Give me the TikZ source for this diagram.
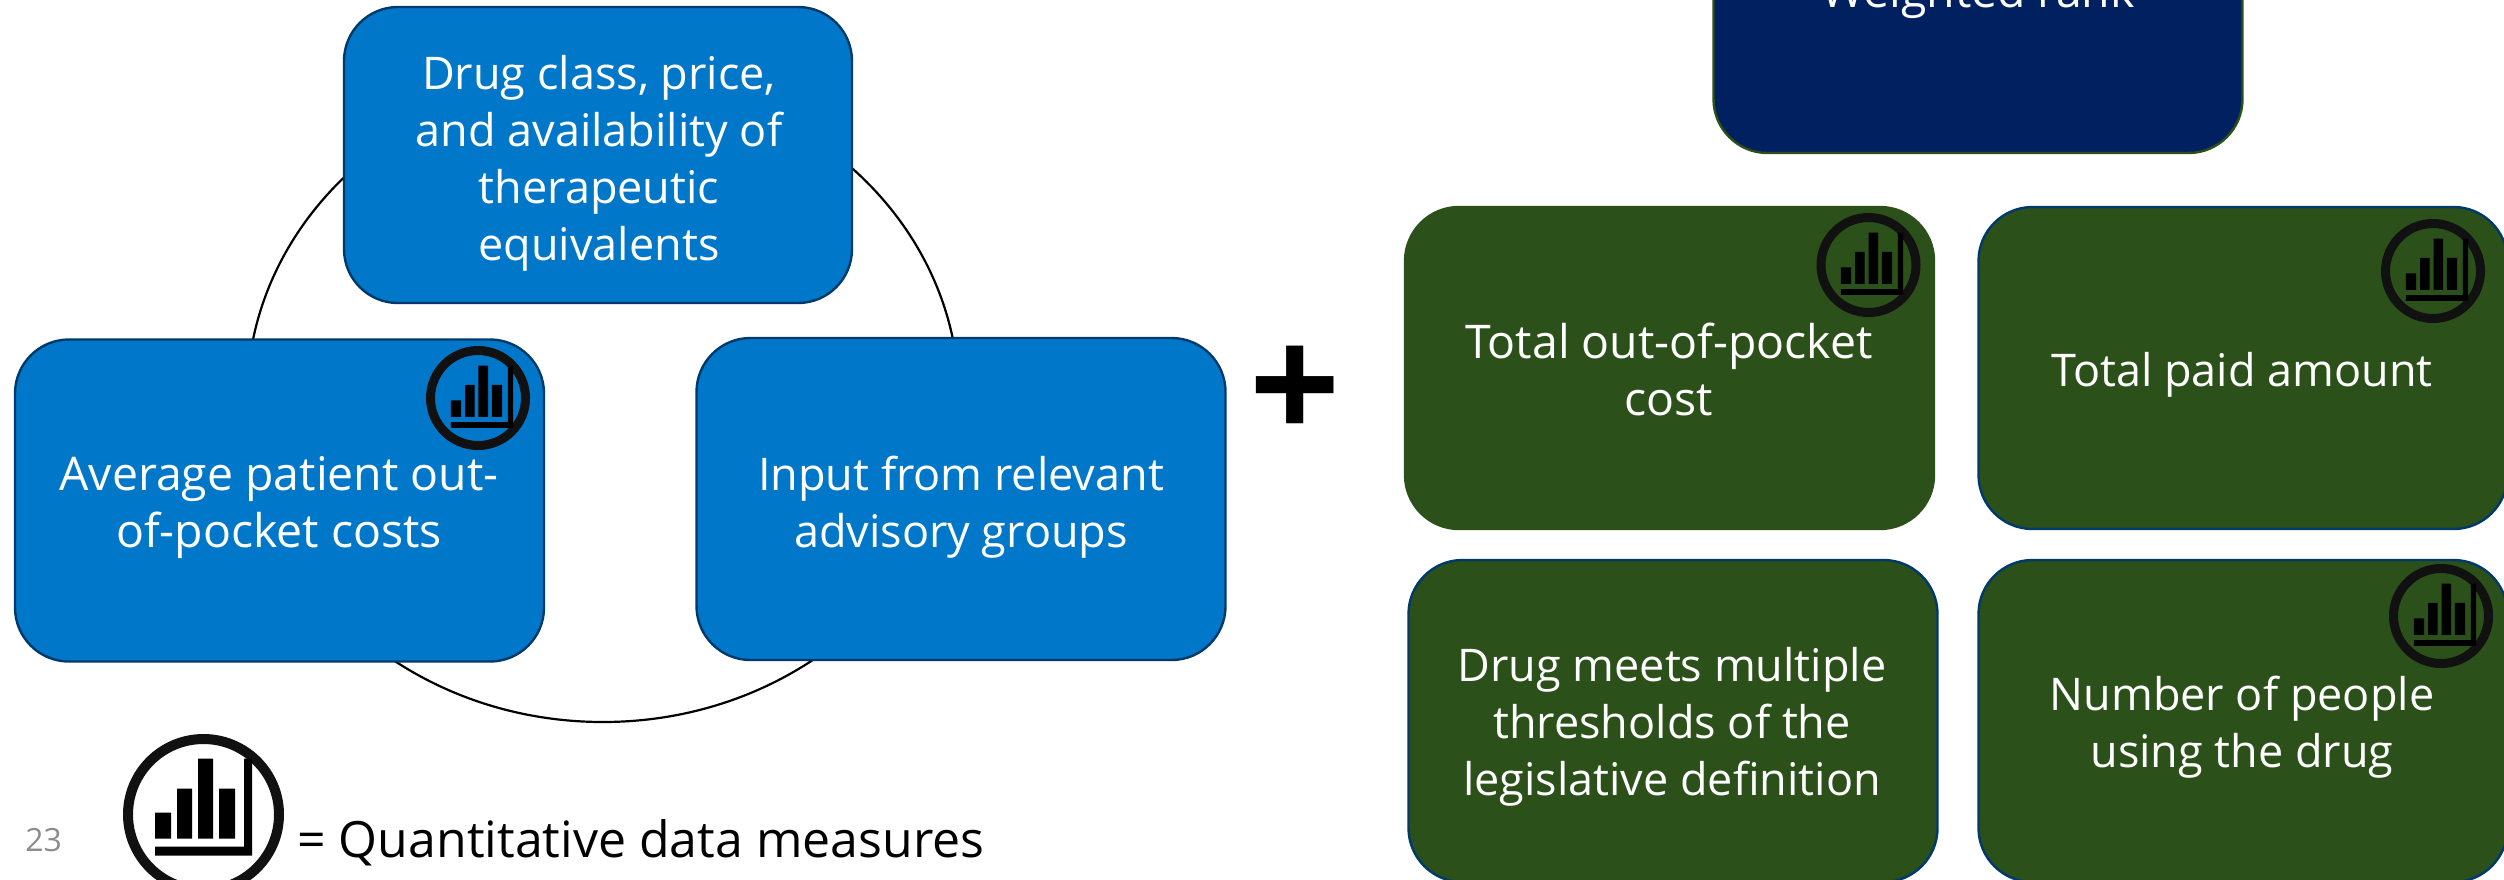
\documentclass[tikz,border=0pt]{standalone}
\usepackage{fontspec}
\setmainfont{Open Sans}
\definecolor{boxblue}{HTML}{0077C8}
\definecolor{boxgreen}{HTML}{2B5019}
\definecolor{boxnavy}{HTML}{002060}
\definecolor{edgeblue}{HTML}{003A6B}
\definecolor{numgrey}{HTML}{8C8C8C}
\definecolor{ringblack}{HTML}{111111}
\newcommand{\chartmark}[4]{%
  \begin{scope}[shift={(#1,#2)}]
    \draw[ringblack,line width=#4*0.5pt] (0,0) circle[x radius=#3,y radius=#3];
  \end{scope}}
\newcommand{\chartbars}[3]{%
  \begin{scope}[shift={(#1,#2)},scale=#3]
    \fill[black] (-48.5,2)rectangle(-32.5,28) (-26.5,-22)rectangle(-11.5,28) (-5.5,-52)rectangle(9.5,28) (15.5,-22)rectangle(31.5,28);
    \fill[black] (40.5,-52)--(48.5,-52)--(48.5,45)--(-48.5,45)--(-48.5,36)--(40.5,36)--cycle;
  \end{scope}}
\tikzset{
  card/.style={rounded corners=54*0.5pt,minimum width=529*0.5pt,minimum height=322*0.5pt,inner sep=0pt,line width=1.2pt},
  bluecard/.style={card,fill=boxblue,draw=edgeblue},
  greencard/.style={card,fill=boxgreen,draw=boxgreen},
  cardtext/.style={text=white,align=center,inner sep=0pt,anchor=base,font=\fontsize{22.5}{28.5}\selectfont},
  widetext/.style={cardtext,font=\fontsize{23.2}{28.5}\selectfont}
}
\begin{document}
\begin{tikzpicture}[x=0.5pt,y=-0.5pt]
\useasboundingbox (0,0) rectangle (2504,879);
\clip (0,0) rectangle (2504,879);
\draw[black,line width=1.1pt] (603,399) circle[x radius=356,y radius=323];
\node[bluecard,minimum width=508*0.5pt,minimum height=296*0.5pt] (top) at (598,155) {};
\node[bluecard] (left) at (279.5,500.5) {};
\node[bluecard] (mid) at (961,499) {};
\node[card,fill=boxnavy,draw=boxgreen] (rank) at (1978,-8) {};
\node[greencard] (g1) at (1669.5,368) {};
\node[greencard,draw=edgeblue] (g2) at (2243,368) {};
\node[greencard,draw=edgeblue] (g3) at (1673,721) {};
\node[greencard,draw=edgeblue] (g4) at (2243,721) {};
\node[cardtext] (t1) at (599,260) {Drug class, price,\\and availability of\\therapeutic\\equivalents};
\node[widetext] (t2) at (279,547) {Average patient out-\\of-pocket costs};
\node[cardtext] (t3) at (961,547) {Input from relevant\\advisory groups};
\node[widetext] (t4) at (1978,7) {Weighted rank};
\node[widetext] (t5) at (1669,415) {Total out-of-pocket\\cost};
\node[cardtext] (t6) at (2242,386) {Total paid amount};
\node[cardtext] (t7) at (1672,795) {Drug meets multiple\\thresholds of the\\legislative definition};
\node[cardtext] (t8) at (2242,767) {Number of people\\using the drug};
\node[anchor=base,inner sep=0pt,font=\bfseries\fontsize{80}{80}\selectfont] (plus) at (1295.5,441) {+};
\node[anchor=base west,inner sep=0pt,font=\fontsize{25}{30}\selectfont] (legend) at (297,857) {= Quantitative data measures};
\node[anchor=base west,inner sep=0pt,text=numgrey,font=\fontsize{16}{18}\selectfont] (page) at (25,851) {23};
\chartmark{478}{398}{47.5}{9}\chartbars{482}{399}{0.64}
\chartmark{1868.5}{265}{47.5}{9}\chartbars{1872}{266}{0.64}
\chartmark{2433}{271}{47.5}{9}\chartbars{2437}{272}{0.64}
\chartmark{2441}{616}{47.5}{9}\chartbars{2445}{617}{0.64}
\chartmark{203.5}{814.5}{75.5}{10}\chartbars{203.5}{810.5}{1}
\end{tikzpicture}
\end{document}
